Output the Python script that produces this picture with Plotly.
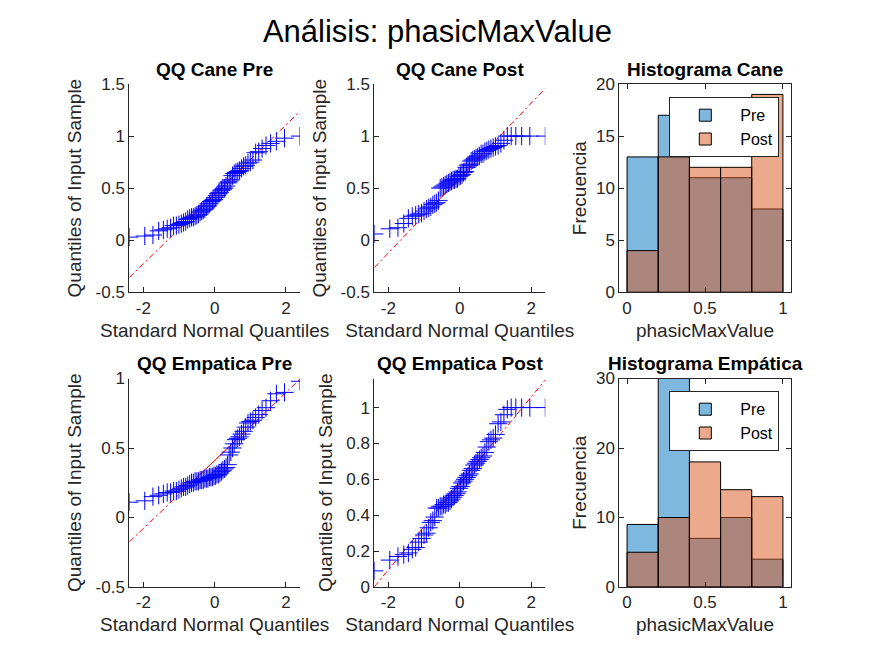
from math import floor
from statistics import NormalDist

import plotly.graph_objects as go

# sorted samples (n = 60 each)
cane_pre = [
    0.03, 0.04, 0.05, 0.09, 0.10, 0.11, 0.12, 0.14, 0.14, 0.15, 0.16, 0.17, 0.18,
    0.20, 0.21, 0.22, 0.22, 0.23, 0.24, 0.25, 0.27, 0.28, 0.29, 0.30, 0.32, 0.33,
    0.35, 0.37, 0.38, 0.39,
    0.41, 0.43, 0.45, 0.46, 0.48, 0.49, 0.50, 0.52, 0.55, 0.56, 0.58,
    0.62, 0.64, 0.65, 0.66, 0.67, 0.69, 0.71, 0.72, 0.74, 0.75, 0.77,
    0.84, 0.85, 0.88, 0.91, 0.93, 0.95, 0.98, 1.00,
]
cane_post = [
    0.06, 0.11, 0.12, 0.16,
    0.21, 0.23, 0.24, 0.25, 0.26, 0.28, 0.30, 0.31, 0.32, 0.34, 0.35, 0.36, 0.38,
    0.50, 0.51, 0.52, 0.53, 0.54, 0.55, 0.56, 0.57, 0.58, 0.58, 0.59, 0.59,
    0.61, 0.62, 0.63, 0.65, 0.66, 0.70, 0.72, 0.73, 0.76, 0.77, 0.78, 0.79,
    0.80, 0.81, 0.83, 0.83, 0.85, 0.86, 0.87, 0.88, 0.89, 0.90, 0.91, 0.93, 0.96,
    1.00, 1.00, 1.00, 1.00, 1.00, 1.00,
]
emp_pre = [
    0.11, 0.12, 0.15, 0.16, 0.17, 0.18, 0.18, 0.19, 0.19,
    0.20, 0.21, 0.22, 0.22, 0.23, 0.24, 0.25,
    0.25, 0.26, 0.26, 0.26, 0.27, 0.27, 0.27, 0.28, 0.28, 0.28, 0.29, 0.29, 0.29,
    0.30, 0.30, 0.31, 0.31, 0.32, 0.33, 0.34, 0.35, 0.36, 0.38,
    0.45, 0.47, 0.50, 0.53, 0.56, 0.57, 0.58,
    0.60, 0.62, 0.65, 0.68, 0.69, 0.70, 0.72, 0.74, 0.77, 0.79,
    0.84, 0.89, 0.90, 0.98,
]
emp_post = [
    0.09, 0.15, 0.17, 0.18, 0.19,
    0.21, 0.22, 0.25, 0.27, 0.29, 0.30, 0.33, 0.36, 0.37, 0.39,
    0.44, 0.44, 0.45, 0.45, 0.46, 0.46, 0.47, 0.47, 0.48, 0.49, 0.50, 0.51, 0.52,
    0.53, 0.55, 0.56, 0.58, 0.59,
    0.60, 0.61, 0.62, 0.63, 0.65, 0.66, 0.68, 0.69, 0.70, 0.71, 0.72, 0.73, 0.75, 0.78,
    0.81, 0.82, 0.83, 0.85, 0.91, 0.92, 0.96, 0.99, 1.00, 1.00, 1.00, 1.00, 1.00,
]

# histogram counts, bins of width 0.2 over [0, 1]
bin_centers = [0.1, 0.3, 0.5, 0.7, 0.9]
cane_pre_counts = [13, 17, 11, 11, 8]
cane_post_counts = [4, 13, 12, 12, 19]
emp_pre_counts = [9, 30, 7, 10, 4]
emp_post_counts = [5, 10, 18, 14, 13]

qq_x_ticks = [-2, 0, 2]
qq_x_labels = ["-2", "0", "2"]
cane_y_ticks = [-0.5, 0, 0.5, 1, 1.5]
cane_y_labels = ["-0.5", "0", "0.5", "1", "1.5"]
emp_pre_y_ticks = [-0.5, 0, 0.5, 1]
emp_pre_y_labels = ["-0.5", "0", "0.5", "1"]
emp_post_y_ticks = [0, 0.2, 0.4, 0.6, 0.8, 1]
emp_post_y_labels = ["0", "0.2", "0.4", "0.6", "0.8", "1"]
hist_x_ticks = [0, 0.5, 1]
hist_x_labels = ["0", "0.5", "1"]

FONT = "Arial, Liberation Sans, sans-serif"
AX = "#262626"
PRE_FILL = "rgba(0,114,189,0.5)"
POST_FILL = "rgba(217,83,25,0.5)"


def prctile(vals, p):
    s = sorted(vals)
    n = len(s)
    pos = n * p / 100 + 0.5
    if pos <= 1:
        return s[0]
    if pos >= n:
        return s[-1]
    lo = floor(pos)
    return s[lo - 1] + (pos - lo) * (s[lo] - s[lo - 1])


def qq_traces(sample, xa, ya):
    n = len(sample)
    ys = sorted(sample)
    xs = [NormalDist().inv_cdf((i - 0.5) / n) for i in range(1, n + 1)]
    q1x, q3x = prctile(xs, 25), prctile(xs, 75)
    q1y, q3y = prctile(ys, 25), prctile(ys, 75)
    slope = (q3y - q1y) / (q3x - q1x)
    cx, cy = (q1x + q3x) / 2, (q1y + q3y) / 2
    mx = [min(xs), max(xs)]
    my = [cy - slope * (cx - mx[0]), cy + slope * (mx[1] - cx)]
    common = dict(xaxis=xa, yaxis=ya, showlegend=False, hoverinfo="skip")
    return [
        go.Scatter(x=mx, y=my, mode="lines",
                   line=dict(color="red", width=1, dash="6px,3px,2px,3px"), **common),
        go.Scatter(x=[q1x, q3x], y=[q1y, q3y], mode="lines",
                   line=dict(color="red", width=1), **common),
        go.Scatter(x=xs, y=ys, mode="markers",
                   marker=dict(symbol="cross-thin-open", size=13, color="blue",
                               line=dict(color="blue", width=1)), **common),
    ], mx


def hist_traces(pre, post, xa, ya, legend):
    out = []
    for name, counts, fill in (("Pre", pre, PRE_FILL), ("Post", post, POST_FILL)):
        out.append(go.Bar(
            x=bin_centers, y=counts, width=0.2, name=name, xaxis=xa, yaxis=ya,
            legend=legend, marker=dict(color=fill, line=dict(color="black", width=1)),
        ))
    return out


fig = go.Figure()

xd = [[129.3 / 875, 300 / 875], [374.3 / 875, 545.3 / 875], [619.3 / 875, 790.7 / 875]]
yd = [[1 - 292.3 / 656, 1 - 84 / 656], [1 - 587 / 656, 1 - 378.5 / 656]]

qq_panels = [
    (cane_pre, "QQ Cane Pre", 0, 0, [-0.5, 1.5], cane_y_ticks, cane_y_labels),
    (cane_post, "QQ Cane Post", 0, 1, [-0.5, 1.5], cane_y_ticks, cane_y_labels),
    (emp_pre, "QQ Empatica Pre", 1, 0, [-0.5, 1.0], emp_pre_y_ticks, emp_pre_y_labels),
    (emp_post, "QQ Empatica Post", 1, 1, [0, 1.162], emp_post_y_ticks, emp_post_y_labels),
]

layout_axes = {}
annotations = []


def axis(domain, anchor, rng, tickvals, ticktext, title, box, standoff):
    return dict(
        domain=domain, anchor=anchor, range=rng, tickvals=tickvals, ticktext=ticktext,
        showline=True, linecolor=AX, linewidth=1, mirror="ticks" if box else False,
        ticks="inside", ticklen=5, tickcolor=AX, tickwidth=1, showgrid=False,
        zeroline=False, tickfont=dict(size=17, color=AX, family=FONT),
        title=dict(text=title, font=dict(size=19, color=AX, family=FONT),
                   standoff=standoff),
        automargin=False,
    )


def panel_title(text, c, r):
    annotations.append(dict(
        text=f"<b>{text}</b>", xref="paper", yref="paper", xanchor="center",
        yanchor="middle", x=sum(xd[c]) / 2, y=yd[r][1], yshift=15, showarrow=False,
        font=dict(size=19, color="black", family=FONT),
    ))


idx = 1
for sample, title, r, c, yr, yt, yl in qq_panels:
    xa, ya = f"x{idx}", f"y{idx}"
    traces, mx = qq_traces(sample, xa, ya)
    for t in traces:
        fig.add_trace(t)
    layout_axes[f"xaxis{idx}"] = axis(xd[c], ya, mx, qq_x_ticks, qq_x_labels,
                                      "Standard Normal Quantiles", False, 6)
    layout_axes[f"yaxis{idx}"] = axis(yd[r], xa, yr, yt, yl,
                                      "Quantiles of Input Sample", False, 8)
    panel_title(title, c, r)
    idx += 1

hist_panels = [
    (cane_pre_counts, cane_post_counts, "Histograma Cane", 0, [0, 20],
     [0, 5, 10, 15, 20], "legend"),
    (emp_pre_counts, emp_post_counts, "Histograma Empática", 1, [0, 30],
     [0, 10, 20, 30], "legend2"),
]
for pre, post, title, r, yr, yt, leg in hist_panels:
    xa, ya = f"x{idx}", f"y{idx}"
    for t in hist_traces(pre, post, xa, ya, leg):
        fig.add_trace(t)
    layout_axes[f"xaxis{idx}"] = axis(xd[2], ya, [-0.05, 1.05], hist_x_ticks,
                                      hist_x_labels, "phasicMaxValue", True, 6)
    layout_axes[f"yaxis{idx}"] = axis(yd[r], xa, yr, yt, [str(v) for v in yt],
                                      "Frecuencia", True, 4)
    panel_title(title, 2, r)
    idx += 1

legend_style = dict(
    xanchor="left", yanchor="top", bgcolor="white", bordercolor=AX, borderwidth=1,
    font=dict(size=16, color="black", family=FONT), itemwidth=60, tracegroupgap=0,
)

fig.update_layout(
    width=875, height=656,
    margin=dict(l=0, r=0, t=0, b=0),
    paper_bgcolor="white", plot_bgcolor="white",
    barmode="overlay",
    title=dict(text="Análisis: phasicMaxValue", x=0.5, xanchor="center",
               y=1 - 31 / 656, yanchor="middle",
               font=dict(size=31, color="black", family=FONT)),
    legend=dict(x=669.3 / 875, y=1 - 97.3 / 656, **legend_style),
    legend2=dict(x=669.3 / 875, y=1 - 391.3 / 656, **legend_style),
    annotations=annotations,
    **layout_axes,
)

fig.write_html("out.html", config={"displayModeBar": False},
               post_script="document.body.style.margin='0px';")
